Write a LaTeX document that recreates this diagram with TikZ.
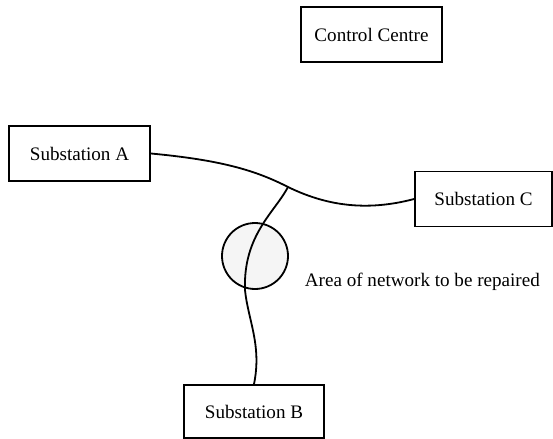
\documentclass[tikz,border=0pt]{standalone}
\usepackage{fontspec}
\setmainfont{Liberation Serif}
\usepackage{tikz}

\begin{document}
\begin{tikzpicture}[x=0.5pt,y=-0.5pt,line width=0.9pt,
  box/.style={draw,minimum width=70.5pt,minimum height=27.5pt,inner sep=0pt,font=\fontsize{9.55}{11}\selectfont},
  cable/.style={line width=0.9pt}]
\useasboundingbox (0,0) rectangle (553,439);
\node[box] (centre) at (371.5,34.5) {Control Centre};
\node[box] (subA) at (79.5,153.5) {Substation A};
\node[box,minimum width=68.5pt] (subC) at (483.5,199) {Substation C};
\node[box,minimum width=70pt,minimum height=26.5pt] (subB) at (254,411.5) {Substation B};

\node[draw,circle,fill=black!4,minimum size=33pt,inner sep=0pt] (area) at (255,256) {};
\node[anchor=west,inner sep=0pt,font=\fontsize{9.55}{11}\selectfont] (arealabel) at (304,282) {Area of network to be repaired};

\coordinate (junc) at (288,187);
\coordinate (bend) at (245,290);
\draw[cable] (subA.east) .. controls (220,160) and (255,170) .. (junc)
  .. controls (325,205) and (365,212) .. (subC.west);
\draw[cable] (junc) .. controls (275,212) and (243,235) .. (bend)
  .. controls (248,320) and (262,345) .. (subB.north);
\end{tikzpicture}
\end{document}
